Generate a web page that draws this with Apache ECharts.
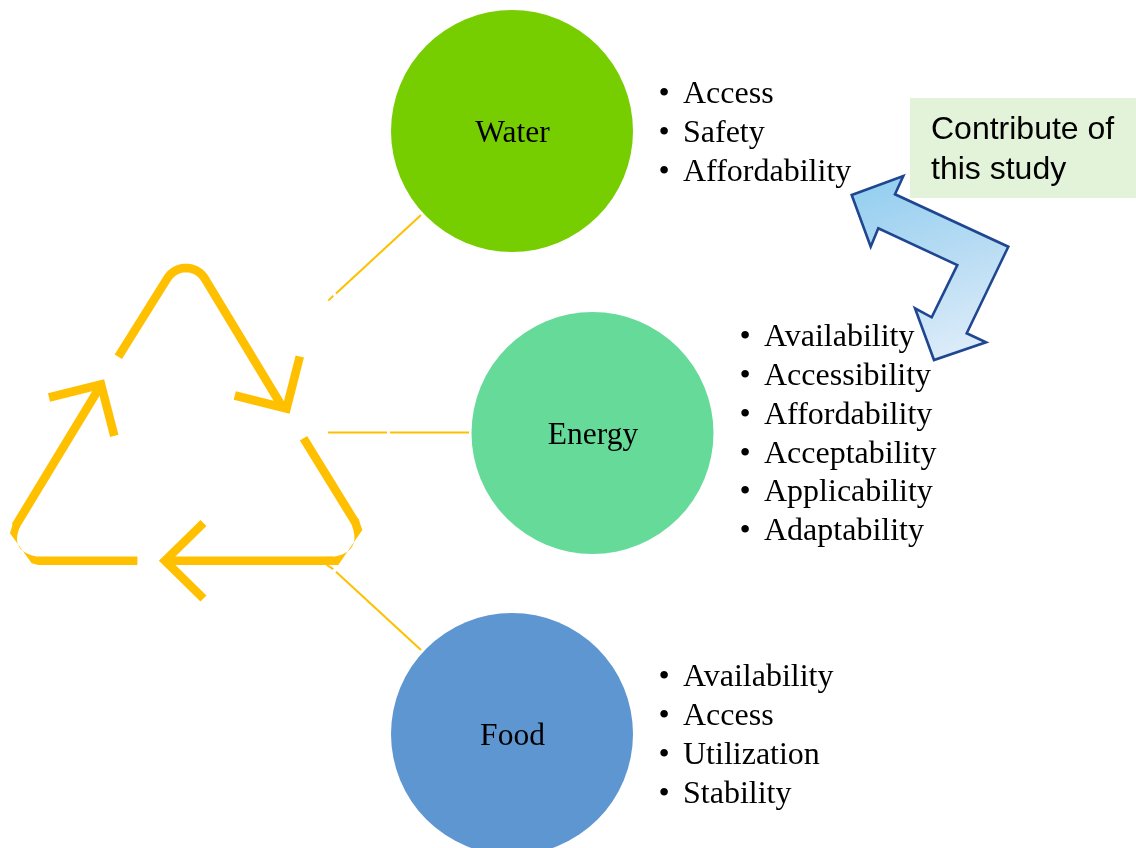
<!DOCTYPE html>
<html>
<head>
<meta charset="utf-8">
<style>html,body{margin:0;padding:0;background:#fff}#c{width:1136px;height:848px}</style>
<script src="https://cdn.jsdelivr.net/npm/echarts@6/dist/echarts.min.js"></script>
</head>
<body>
<div id="c"></div>
<script>
// Labels of the three resource circles and the dimensions listed beside each one
const nodeNames = ['Water', 'Energy', 'Food'];
const waterItems = ['Access', 'Safety', 'Affordability'];
const energyItems = ['Availability', 'Accessibility', 'Affordability', 'Acceptability', 'Applicability', 'Adaptability'];
const foodItems = ['Availability', 'Access', 'Utilization', 'Stability'];
const noteLines = ['Contribute of', 'this study'];

// Diagram layout, in units of the hidden page-sized axes
const AMBER = '#FFC000';
const circleLayout = [
  { c: [512, 131], color: '#76CE00' },
  { c: [592.5, 433], color: '#66DA99' },
  { c: [512, 734], color: '#5E96D2' }
];
const listLayout = [
  { items: waterItems, bullet: 664, text: 683, top: 95 },
  { items: energyItems, bullet: 745, text: 764, top: 338 },
  { items: foodItems, bullet: 664, text: 683, top: 678 }
];
const LINE_STEP = 38.7;

// Samples a circular arc, angles in degrees
function arc(cx, cy, r, from, to, n) {
  const out = [];
  for (let i = 0; i <= n; i++) {
    const a = (from + (to - from) * i / n) * Math.PI / 180;
    out.push([cx + r * Math.cos(a), cy + r * Math.sin(a)]);
  }
  return out;
}
// Samples a quadratic curve
function curve(p0, c, p1, n) {
  const out = [];
  for (let i = 0; i <= n; i++) {
    const t = i / n, u = 1 - t;
    out.push([u * u * p0[0] + 2 * u * t * c[0] + t * t * p1[0],
              u * u * p0[1] + 2 * u * t * c[1] + t * t * p1[1]]);
  }
  return out;
}

// Recycling triangle: stems and arrow heads as strokes
const thickStrokes = [
  [[118.3, 356.7], ...arc(186, 290, 22, -148.7, -31.3, 24), [283, 408]],
  [[234.8, 395.5], [286.5, 408.5], [299.8, 356.5]],
  [[303.5, 438.3], [356, 523.6]],
  [[333, 560.8], [165, 560.8]],
  [[203.5, 523], [165, 560.8], [203.5, 598.5]],
  [[137.4, 560.8], [38, 560.8]],
  [[15.5, 526], [98, 390]],
  [[49, 397.5], [101, 384.5], [114.3, 435.8]]
];
// Clipped outer corners of the triangle
const cornerFills = [
  [[351.7, 525], [358.3, 518.3], [362.3, 530], [338.3, 565], [326.7, 565], [326.7, 556.7], [333.3, 556.7],
    ...curve([333.3, 556.7], [362, 552], [351.7, 525], 14)],
  [[20, 526.7], [13.3, 521.7], [10, 533.3], [31.7, 563.3], [38.3, 565], [38.3, 556.7],
    ...curve([38.3, 556.7], [9, 552], [20, 526.7], 14)]
];
// Thin connectors from the triangle to the circles
const thinStrokes = [
  [[421, 215], [336, 293.4]], [[333.3, 295.8], [328.3, 300.6]],
  [[328, 432.5], [387, 432.5]], [[390, 432.5], [469, 432.5]],
  [[421, 650], [336, 571.7]], [[333.3, 569.1], [326.7, 565]]
];
// Double-headed bent arrow
const blockArrow = [[851.7, 195], [903.3, 176], [895, 194.3], [1008.3, 246.7], [966.7, 333.3],
  [986, 342.3], [934, 360], [915, 308.3], [931.7, 317.3], [957.3, 265], [878.3, 228.3], [870.7, 246.7]];

function renderPieces(params, api) {
  const pts = list => list.map(p => api.coord(p));
  const children = [];
  const tl = api.coord([910, 98]), br = api.coord([1136, 198]);
  children.push({ type: 'rect', shape: { x: tl[0], y: tl[1], width: br[0] - tl[0], height: br[1] - tl[1] },
    style: { fill: '#E2F3D9' } });
  thinStrokes.forEach(s => children.push({ type: 'polyline', shape: { points: pts(s) },
    style: { stroke: AMBER, lineWidth: 2, fill: 'none', lineCap: 'butt' } }));
  cornerFills.forEach(s => children.push({ type: 'polygon', shape: { points: pts(s) }, style: { fill: AMBER } }));
  thickStrokes.forEach(s => children.push({ type: 'polyline', shape: { points: pts(s) },
    style: { stroke: AMBER, lineWidth: 8.6, fill: 'none', lineCap: 'butt', lineJoin: 'miter', miterLimit: 10 } }));
  children.push({ type: 'polygon', shape: { points: pts(blockArrow) },
    style: {
      fill: new echarts.graphic.LinearGradient(0.15, 0, 0.5, 1, [
        { offset: 0, color: '#92CEEF' }, { offset: 0.55, color: '#BBDDF4' }, { offset: 1, color: '#DCECF9' }
      ]),
      stroke: '#1F4690', lineWidth: 2.6, lineJoin: 'miter', miterLimit: 10
    } });
  listLayout.forEach(l => l.items.forEach((name, i) => {
    const y = l.top + i * LINE_STEP;
    const pb = api.coord([l.bullet, y]), pt = api.coord([l.text, y]);
    children.push({ type: 'text', style: { x: pb[0], y: pb[1], text: '\u2022', fill: '#000',
      font: '32px "Liberation Serif"', align: 'center', verticalAlign: 'middle' } });
    children.push({ type: 'text', style: { x: pt[0], y: pt[1], text: name, fill: '#000',
      font: '32px "Liberation Serif"', align: 'left', verticalAlign: 'middle' } });
  }));
  noteLines.forEach((line, i) => {
    const p = api.coord([931, 130 + i * 40]);
    children.push({ type: 'text', style: { x: p[0], y: p[1], text: line, fill: '#000',
      font: '32px "Liberation Sans"', align: 'left', verticalAlign: 'middle' } });
  });
  return { type: 'group', children };
}

const chart = echarts.init(document.getElementById('c'), null, { renderer: 'canvas' });
chart.setOption({
  animation: false,
  backgroundColor: '#fff',
  grid: { left: 0, right: 0, top: 0, bottom: 0 },
  xAxis: { type: 'value', min: 0, max: 1136, show: false },
  yAxis: { type: 'value', min: 0, max: 848, inverse: true, show: false },
  series: [
    { type: 'custom', renderItem: renderPieces, data: [[0, 0]], clip: false, silent: true, z: 2 },
    {
      type: 'scatter', symbol: 'circle', symbolSize: 242, silent: true, z: 3, clip: false,
      data: nodeNames.map((name, i) => ({
        name, value: circleLayout[i].c, itemStyle: { color: circleLayout[i].color, opacity: 1 }
      })),
      label: { show: true, position: 'inside', offset: [0.5, 3], formatter: '{b}', color: '#000',
        fontFamily: 'Liberation Serif', fontSize: 31.5 }
    }
  ]
});
</script>
</body>
</html>
